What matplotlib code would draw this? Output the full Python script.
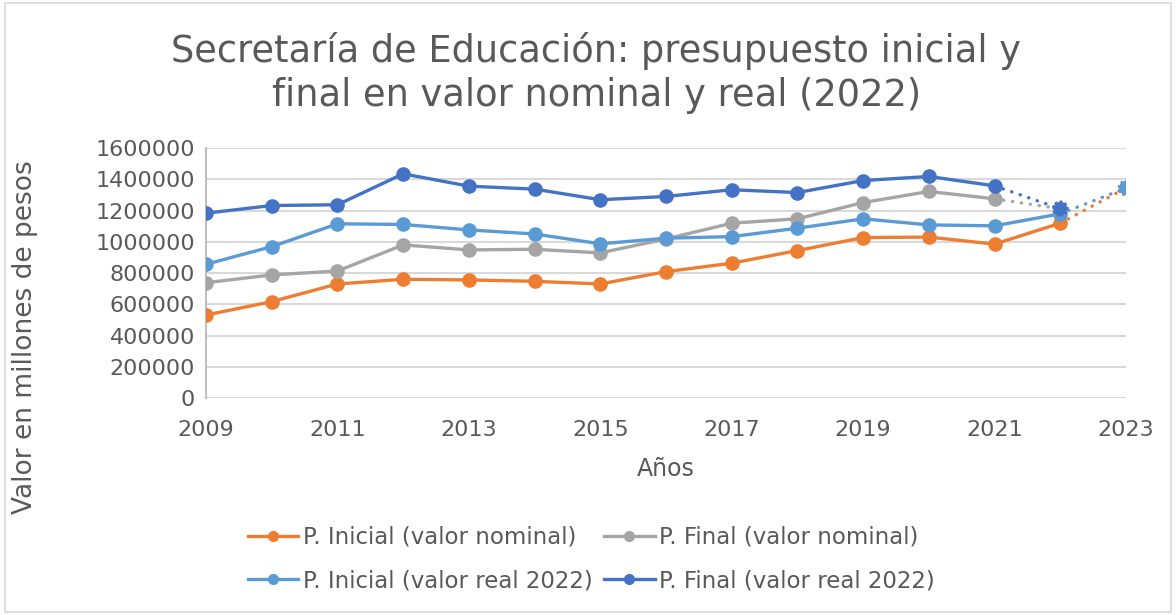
import numpy as np
import matplotlib
matplotlib.use("Agg")
from matplotlib import pyplot as plt
from matplotlib.lines import Line2D
from matplotlib.patches import Rectangle
from matplotlib.ticker import FuncFormatter

# data (millones de pesos)
years = list(range(2009, 2024))
inicial_nominal = [531000, 617000, 730000, 760000, 756000, 747000, 730000, 809000,
                   863000, 944000, 1027000, 1030000, 985000, 1119000, 1344000]
final_nominal = [738000, 788000, 813000, 980000, 948000, 952000, 929000, 1018000,
                 1119000, 1147000, 1251000, 1322000, 1275000, 1211000, np.nan]
inicial_real = [856000, 969000, 1115000, 1111000, 1076000, 1050000, 987000, 1023000,
                1033000, 1087000, 1147000, 1108000, 1102000, 1179000, 1344000]
final_real = [1183000, 1232000, 1237000, 1435000, 1356000, 1337000, 1269000, 1290000,
              1333000, 1315000, 1392000, 1418000, 1358000, 1211000, np.nan]

labels = ['P. Inicial (valor nominal)', 'P. Final (valor nominal)',
          'P. Inicial (valor real 2022)', 'P. Final (valor real 2022)']
colors = ['#ED7D31', '#A5A5A5', '#5B9BD5', '#4472C4']
series = [inicial_nominal, final_nominal, inicial_real, final_real]
# last index drawn solid for each series
solid_end = [13, 12, 13, 12]

txt = '#595959'
plt.rcParams['font.family'] = ['DejaVu Sans']

fig = plt.figure(figsize=(11.76, 6.15), dpi=100)
ax = fig.add_axes([0.1752, 0.3528, 0.7823, 0.4065])

yrs = np.array(years)
for vals, col, se in zip(series, colors, solid_end):
    v = np.array(vals, dtype=float)
    ax.plot(yrs[:se + 1], v[:se + 1], color=col, lw=2.4, zorder=3,
            solid_capstyle='round')
    ax.plot(yrs[se:], v[se:], color=col, lw=2.4, zorder=3,
            linestyle=(0, (0.1, 2.6)), dash_capstyle='round')
    ax.plot(yrs[:se + 1], v[:se + 1], 'o', color=col, ms=9.5, zorder=4)
    # final point with dashed border
    last = np.where(~np.isnan(v))[0][-1]
    ax.scatter([yrs[last]], [v[last]], s=100, color=col, edgecolors=col,
               linewidths=1.8, linestyle=(0, (1, 1)), zorder=5)

ax.set_xlim(2009, 2023)
ax.set_ylim(0, 1600000)
ax.set_xticks(range(2009, 2024, 2))
ax.set_yticks(range(0, 1600001, 200000))
ax.yaxis.set_major_formatter(FuncFormatter(lambda v, p: '%d' % v))
ax.yaxis.grid(True, color='#D9D9D9', lw=1.5)
ax.set_axisbelow(True)
for s in ['top', 'right', 'bottom']:
    ax.spines[s].set_visible(False)
ax.spines['left'].set_color('#BFBFBF')
ax.spines['left'].set_linewidth(1.5)
ax.tick_params(length=0, labelsize=16, colors=txt, pad=8)
ax.tick_params(axis='x', pad=16)

ax.set_xlabel('Años', fontsize=17, color=txt, labelpad=12)
ax.set_ylabel('Valor en millones de pesos', fontsize=19, color=txt)
ax.yaxis.set_label_coords(-0.183, 0.244)

fig.text(0.507, 0.881, 'Secretaría de Educación: presupuesto inicial y\nfinal en valor nominal y real (2022)',
         ha='center', va='center', fontsize=26.5, color=txt, linespacing=1.25)

order = [0, 2, 1, 3]
handles = [Line2D([], [], color=colors[i], lw=2.4, marker='o', ms=7) for i in order]
fig.legend(handles, [labels[i] for i in order], loc='center', bbox_to_anchor=(0.503, 0.091),
           ncol=2, frameon=False, fontsize=16.5, labelcolor=txt, handlelength=2.2,
           handletextpad=0.2, columnspacing=0.5, borderaxespad=0, labelspacing=0.9)

fig.patches.append(Rectangle((0.004, 0.005), 0.992, 0.99, transform=fig.transFigure,
                             fill=False, edgecolor='#D9D9D9', lw=1.2))

fig.savefig('out.png', dpi=100)
